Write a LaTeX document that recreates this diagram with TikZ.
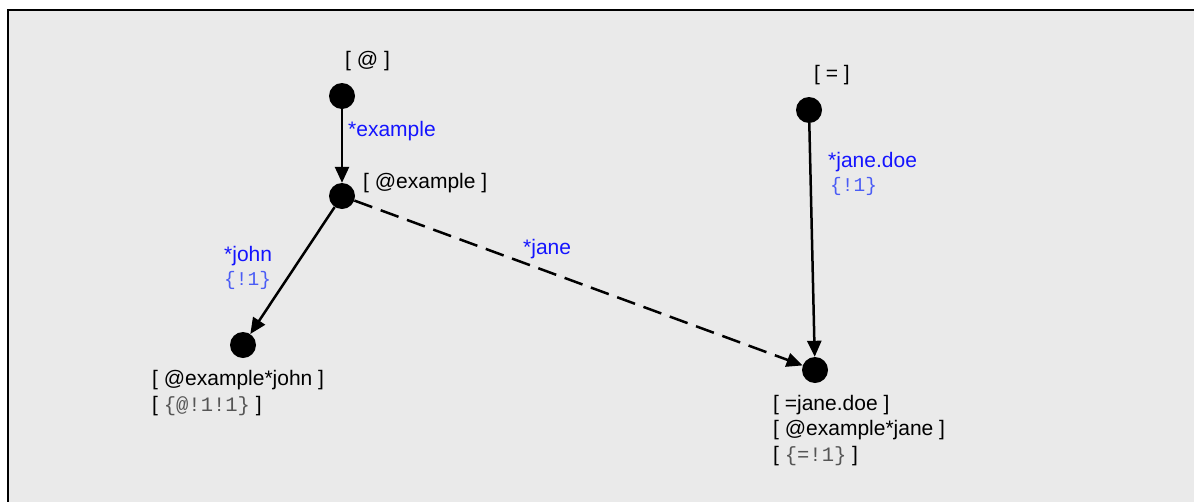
\documentclass[tikz,border=0pt]{standalone}
\usepackage{fontspec}
\setmainfont{Liberation Sans}
\newfontfamily\monof{Liberation Mono}
\usetikzlibrary{arrows.meta}
\definecolor{bggray}{HTML}{EAEAEA}
\definecolor{lblblue}{HTML}{1414FF}
\definecolor{monoblue}{HTML}{4A5CF5}
\definecolor{monogray}{HTML}{555555}
\tikzset{
  dot/.style={circle,fill=black,minimum size=26pt,inner sep=0pt},
  lbl/.style={anchor=west,inner sep=0pt,font=\fontsize{21}{24}\selectfont,text=black},
  elbl/.style={anchor=west,inner sep=0pt,font=\fontsize{21}{24}\selectfont,text=lblblue},
  mlbl/.style={anchor=west,inner sep=0pt,font=\monof\fontsize{19.5}{22}\selectfont,text=monoblue},
  edge/.style={line width=2.5pt,-{Triangle[length=16pt,width=14pt]}},
  dedge/.style={edge,dash pattern=on 19pt off 9pt}
}
\newcommand{\mg}[1]{{\monof\fontsize{20.5}{22}\selectfont\textcolor{monogray}{#1}}}
\begin{document}
\begin{tikzpicture}[x=1pt,y=-1pt]
\useasboundingbox (0,0) rectangle (1194,501);
\fill[bggray] (8,10) rectangle (1200,510);
\draw[line width=1.8pt] (8,510) -- (8,10) -- (1200,10);
% nodes
\node[dot] (A) at (342,96) {};
\node[dot] (B) at (342,196) {};
\node[dot] (C) at (243,345) {};
\node[dot] (D) at (809,110) {};
\node[dot] (E) at (815,370) {};
% node labels
\node[lbl] (lA) at (345,61) {[ @ ]};
\node[lbl] (lB) at (363,183) {[ @example ]};
\node[lbl] (lC1) at (152,380) {[ @example*john ]};
\node[lbl] (lC2) at (152,406) {[ \mg{\{@!1!1\}} ]};
\node[lbl] (lD) at (814,75) {[ = ]};
\node[lbl] (lE1) at (773,405) {[ =jane.doe ]};
\node[lbl] (lE2) at (773,430) {[ @example*jane ]};
\node[lbl] (lE3) at (773,456) {[ \mg{\{=!1\}} ]};
% edges
\draw[edge] (A) -- (B);
\draw[edge] (B) -- (C);
\draw[edge] (D) -- (E);
\draw[dedge] (B) -- (E);
% edge labels
\node[elbl] (eAB) at (348,131) {*example};
\node[elbl] (eBC) at (224,256) {*john};
\node[mlbl] (eBC2) at (224,280) {\{!1\}};
\node[elbl] (eBE) at (523,249) {*jane};
\node[elbl] (eDE) at (828,162) {*jane.doe};
\node[mlbl] (eDE2) at (830,186) {\{!1\}};
\end{tikzpicture}
\end{document}
